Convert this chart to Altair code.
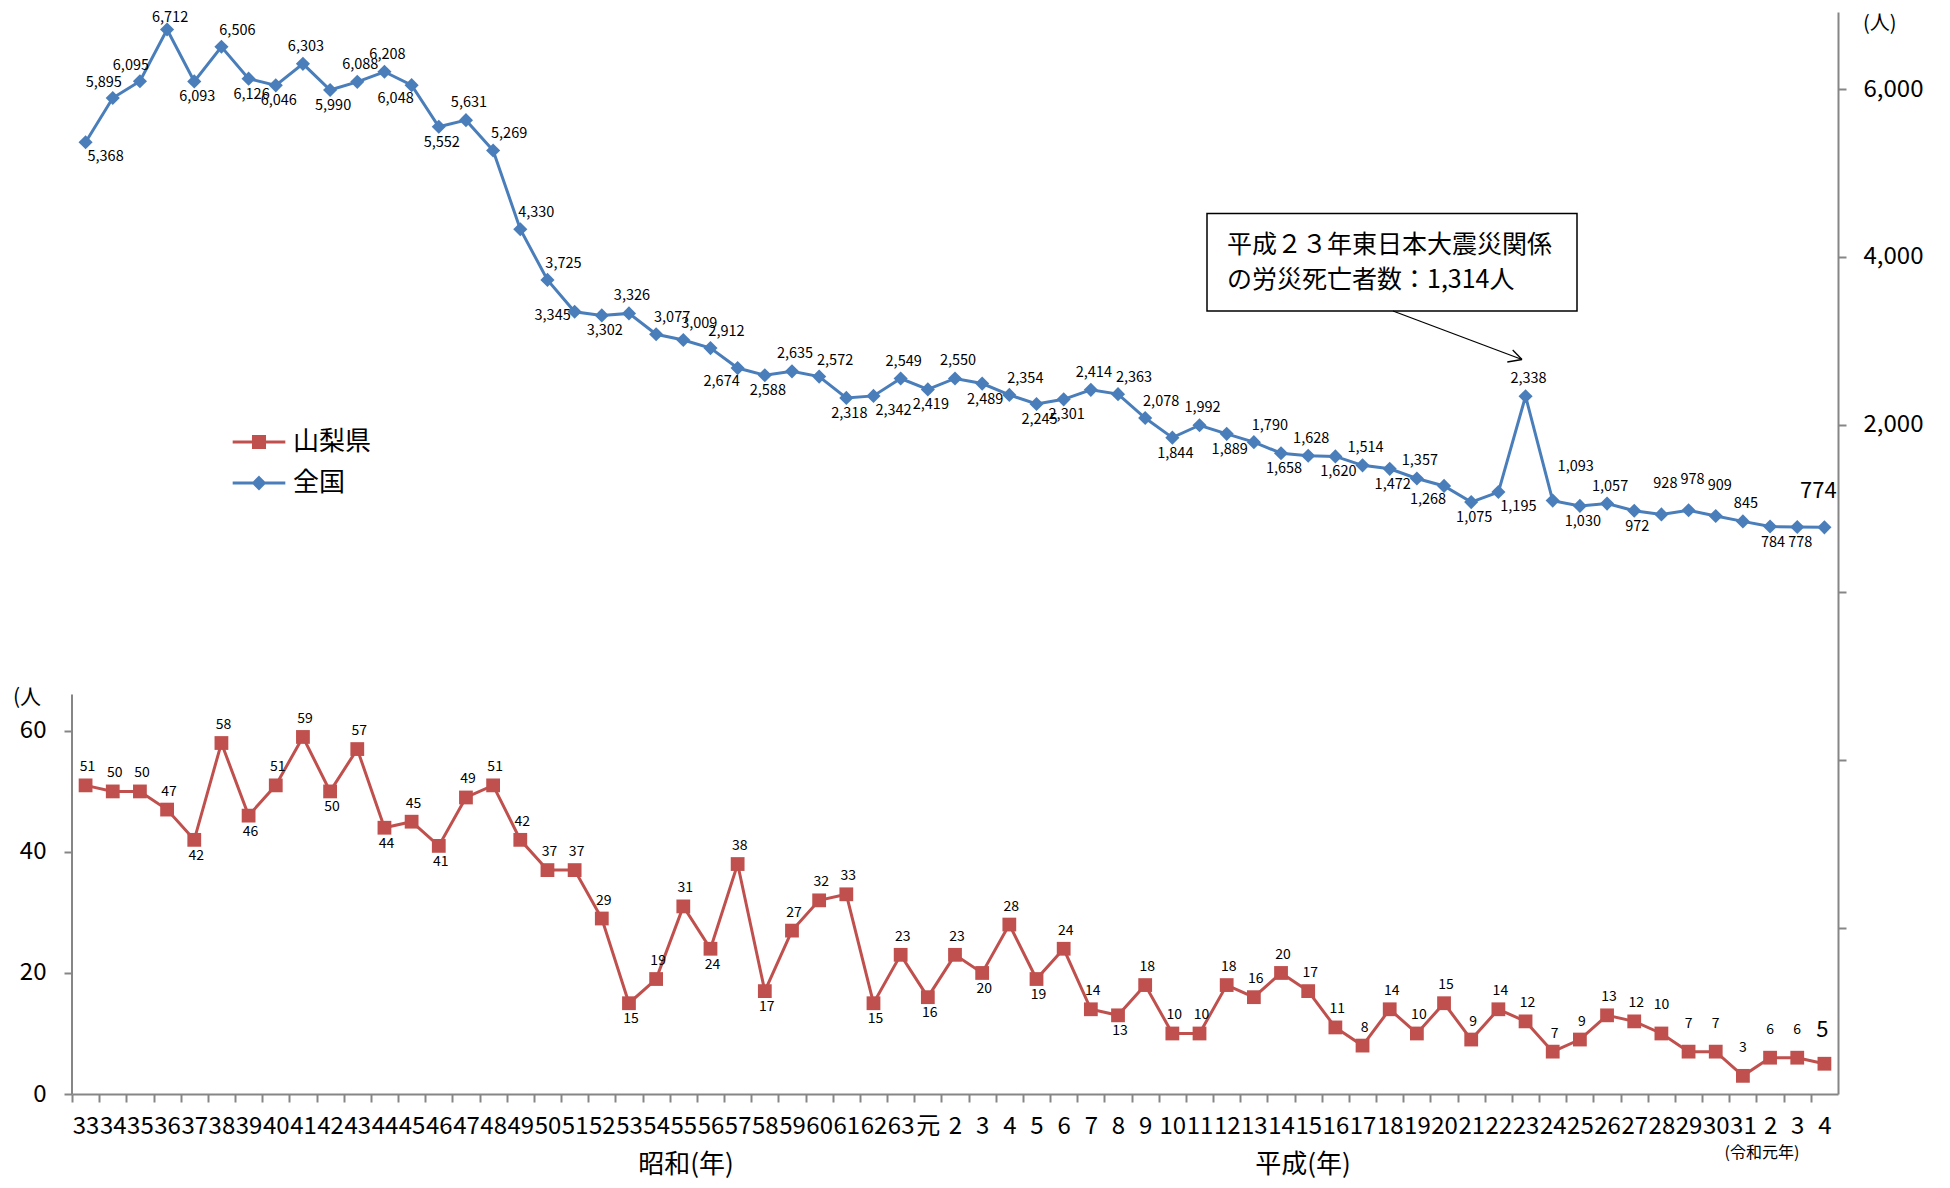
import json
import altair as alt
import pandas as pd

FONT = "Noto Sans CJK JP"
RED = "#C0504D"
BLUE = "#4A7EBB"
GRAY = "#868686"

# ---------------- data ----------------
tick_labels = ["33", "34", "35", "36", "37", "38", "39", "40", "41", "42", "43",
               "44", "45", "46", "47", "48", "49", "50", "51", "52", "53", "54",
               "55", "56", "57", "58", "59", "60", "61", "62", "63",
               "元", "2", "3", "4", "5", "6", "7", "8", "9", "10", "11", "12",
               "13", "14", "15", "16", "17", "18", "19", "20", "21", "22", "23",
               "24", "25", "26", "27", "28", "29", "30", "31",
               "2", "3", "4"]

yamanashi = [51, 50, 50, 47, 42, 58, 46, 51, 59, 50, 57, 44, 45, 41, 49, 51,
             42, 37, 37, 29, 15, 19, 31, 24, 38, 17, 27, 32, 33, 15, 23,
             16, 23, 20, 28, 19, 24, 14, 13, 18, 10, 10, 18, 16, 20, 17, 11,
             8, 14, 10, 15, 9, 14, 12, 7, 9, 13, 12, 10, 7, 7, 3,
             6, 6, 5]

national = [5368, 5895, 6095, 6712, 6093, 6506, 6126, 6046, 6303, 5990, 6088,
            6208, 6048, 5552, 5631, 5269, 4330, 3725, 3345, 3302, 3326, 3077,
            3009, 2912, 2674, 2588, 2635, 2572, 2318, 2342, 2549,
            2419, 2550, 2489, 2354, 2245, 2301, 2414, 2363, 2078, 1844, 1992,
            1889, 1790, 1658, 1628, 1620, 1514, 1472, 1357, 1268, 1075, 1195,
            2338, 1093, 1030, 1057, 972, 928, 978, 909, 845,
            784, 778, 774]

series_names = ["山梨県", "全国"]

# label placement (a=above, b=below, r/l = shifted right/left, A = further above)
nat_label_pos = ["br", "al", "al", "as", "b", "ar", "b", "b", "a", "b", "a",
                 "a", "bl", "b", "a", "ar", "ar", "ar", "l", "b", "a", "ar",
                 "ar", "ar", "bl", "b", "a", "ar", "b", "br", "a",
                 "b", "a", "b", "ar", "b", "b", "a", "ar", "ar", "b", "a",
                 "b", "ar", "b", "a", "b", "a", "b", "a", "bl", "b", "br",
                 "a", "Ar", "b", "a", "b", "A", "A", "A", "a",
                 "b", "b", "big"]

yam_label_pos = ["a", "a", "a", "a", "b", "a", "b", "a", "a", "b", "a", "b",
                 "a", "b", "a", "a", "a", "a", "a", "a", "b", "a", "a", "b",
                 "a", "b", "a", "a", "a", "b", "a",
                 "b", "a", "b", "a", "b", "a", "a", "b", "a", "a", "a", "a",
                 "a", "a", "a", "a", "a", "a", "a", "a", "a", "a", "a", "a",
                 "a", "a", "a", "A", "A", "A", "A",
                 "A", "A", "big"]

note_lines = ["平成２３年東日本大震災関係", "の労災死亡者数：1,314人"]

df = pd.DataFrame({
    "idx": list(range(len(tick_labels))),
    "yam": yamanashi,
    "nat": national,
    "ypos": yam_label_pos,
    "npos": nat_label_pos,
})

# ---------------- layout ----------------
W, H = 1766, 1082
STEP = W / len(tick_labels)

x_scale = alt.Scale(type="point", padding=0.5)
yam_scale = alt.Scale(domain=[0, 178.8], nice=False, zero=False)
nat_scale = alt.Scale(domain=[-5985, 6921], nice=False, zero=False)

label_expr = json.dumps(tick_labels, ensure_ascii=False) + "[datum.value]"
x_axis = alt.Axis(title=None, labelExpr=label_expr, labelAngle=0,
                  labelFont=FONT, labelFontSize=24, labelColor="black",
                  labelOverlap=False, labelPadding=12,
                  tickOffset=-STEP / 2, labelOffset=STEP / 2,
                  tickSize=8, tickWidth=2, tickColor=GRAY,
                  domainColor=GRAY, domainWidth=2, grid=False)

yam_axis = alt.Axis(title=None, orient="left", values=[0, 20, 40, 60],
                    domain=False, tickSize=8, tickWidth=2, tickColor=GRAY,
                    labelFont=FONT, labelFontSize=24, labelColor="black",
                    labelPadding=18, grid=False)

nat_axis = alt.Axis(title=None, orient="right",
                    values=[-4000, -2000, 0, 2000, 4000, 6000],
                    labelExpr="datum.value > 0 ? format(datum.value, ',') : ''",
                    domain=True, domainColor=GRAY, domainWidth=2,
                    tickSize=8, tickWidth=2, tickColor=GRAY,
                    labelFont=FONT, labelFontSize=24, labelColor="black",
                    labelPadding=17, grid=False)

base = alt.Chart(df)


def X():
    return alt.X("idx:O", scale=x_scale, axis=x_axis)


def YY():
    return alt.Y("yam:Q", scale=yam_scale, axis=yam_axis)


def YN():
    return alt.Y("nat:Q", scale=nat_scale, axis=nat_axis)


# ---------------- Yamanashi ----------------
yam_line = base.mark_line(color=RED, strokeWidth=3).encode(x=X(), y=YY())
yam_pts = base.mark_point(shape="square", filled=True, size=190, color=RED,
                          opacity=1).encode(x=X(), y=YY())

yam_offsets = {"a": (2, -18, 14), "b": (2, 16, 14), "A": (0, -28, 14),
               "big": (-2, -34, 22)}
yam_texts = []
for key, (dx, dy, fs) in yam_offsets.items():
    yam_texts.append(
        base.transform_filter(alt.datum.ypos == key)
        .mark_text(dx=dx, dy=dy, fontSize=fs, font=FONT, color="black",
                   baseline="middle")
        .encode(x=X(), y=YY(), text=alt.Text("yam:Q")))

yam_domain = alt.Chart(pd.DataFrame({"k": [0]})).mark_rule(
    color=GRAY, strokeWidth=2).encode(
    x=alt.value(0),
    y=alt.YDatum(0, scale=yam_scale, axis=yam_axis),
    y2=alt.Y2Datum(66))

sq_path = "M-1,0H1M-0.21,-0.21H0.21V0.21H-0.21Z"
dm_path = "M-1,0H1M0,-0.2L0.2,0L0,0.2L-0.2,0Z"
leg = alt.Legend(title=None, orient="none", legendX=159, legendY=402,
                 direction="vertical", padding=0, labelFont=FONT,
                 labelFontSize=26, labelColor="black", labelOffset=6,
                 symbolSize=2770, symbolStrokeWidth=3, rowPadding=-12)
legend_layer = alt.Chart(pd.DataFrame({"series": series_names})).mark_point(
    opacity=1).encode(
    shape=alt.Shape("series:N", scale=alt.Scale(domain=series_names,
                                                range=[sq_path, dm_path]),
                    legend=leg),
    fill=alt.Fill("series:N", scale=alt.Scale(domain=series_names,
                                              range=[RED, BLUE]), legend=leg),
    stroke=alt.Stroke("series:N", scale=alt.Scale(domain=series_names,
                                                  range=[RED, BLUE]),
                      legend=leg),
).transform_filter("false")

yam_layer = alt.layer(yam_line, yam_domain, yam_pts, *yam_texts, legend_layer)

# ---------------- National ----------------
nat_line = base.mark_line(color=BLUE, strokeWidth=3).encode(x=X(), y=YN())
nat_pts = base.mark_point(shape="diamond", filled=True, size=200, color=BLUE,
                          opacity=1).encode(x=X(), y=YN())

nat_offsets = {"a": (3, -17, 14.5), "as": (3, -12, 14.5), "b": (3, 16, 14.5),
               "ar": (16, -16, 14.5), "al": (-9, -15, 14.5),
               "br": (20, 15, 14.5), "bl": (-16, 14, 14.5),
               "l": (-22, 4, 14.5), "A": (4, -30, 14.5),
               "Ar": (23, -34, 14.5), "big": (-6, -36, 22)}
nat_texts = []
for key, (dx, dy, fs) in nat_offsets.items():
    nat_texts.append(
        base.transform_filter(alt.datum.npos == key)
        .mark_text(dx=dx, dy=dy, fontSize=fs, font=FONT, color="black",
                   baseline="middle")
        .encode(x=X(), y=YN(), text=alt.Text("nat:Q", format=",")))

nat_layer = alt.layer(nat_line, nat_pts, *nat_texts)

# ---------------- annotations ----------------
one = alt.Chart(pd.DataFrame({"k": [0]}))


def txt(s, x, y, size, align="center"):
    return one.mark_text(text=s, font=FONT, fontSize=size, color="black",
                         align=align, baseline="middle").encode(
        x=alt.value(x), y=alt.value(y))


def seg(x1, y1, x2, y2, w=1.3):
    return one.mark_rule(color="black", strokeWidth=w).encode(
        x=alt.value(x1), y=alt.value(y1), x2=alt.value(x2), y2=alt.value(y2))


box = one.mark_rect(fill="white", stroke="black", strokeWidth=1.5).encode(
    x=alt.value(1135), x2=alt.value(1505), y=alt.value(201.5),
    y2=alt.value(299))

annos = [
    box,
    txt(note_lines[0], 1155, 233, 25, "left"),
    txt(note_lines[1], 1155, 268, 25, "left"),
    seg(1321, 299, 1450, 347.5),
    seg(1440.7, 338, 1450, 347.5),
    seg(1435.3, 350, 1450, 347.5),
    txt("(人", -59, 686, 21, "left"),
    txt("(人)", 1791, 12, 20, "left"),
    txt("昭和(年)", 614, 1153, 26),
    txt("平成(年)", 1231, 1153, 26),
    txt("(令和元年)", 1690, 1141, 16),
]

chart = alt.layer(yam_layer, nat_layer, *annos).resolve_scale(
    y="independent").properties(
    width=W, height=H,
    autosize=alt.AutoSizeParams(type="none"),
    padding={"left": 64, "top": 4, "right": 100, "bottom": 86},
).configure_view(stroke=None).configure_axis(grid=False)

chart.save("out.html", embed_options={"renderer": "svg", "actions": False})
